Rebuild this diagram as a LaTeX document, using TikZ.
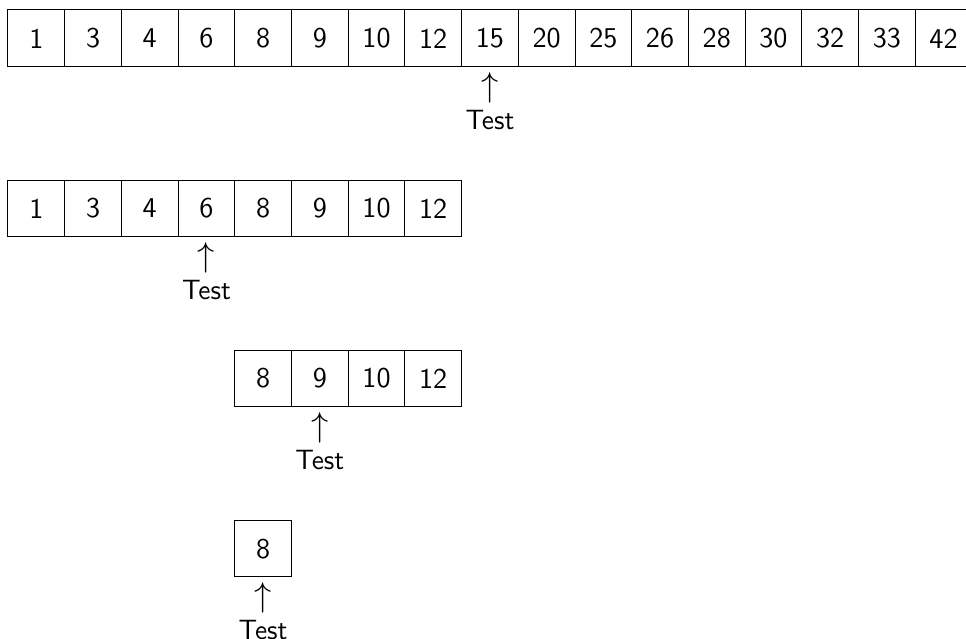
\documentclass[tikz,border=0pt]{standalone}
\usepackage{tikz}
\begin{document}
\begin{tikzpicture}[
  x=1cm,y=1cm,
  cell/.style={draw, line width=0.5pt, minimum size=1cm, inner sep=0pt, outer sep=0pt,
    font=\sffamily\fontsize{14.4}{17}\selectfont},
  upsym/.style={inner sep=0pt, anchor=north, font=\fontsize{16.5}{19}\selectfont},
  testlbl/.style={inner sep=0pt, anchor=base, font=\sffamily\fontsize{14}{17}\selectfont}
]
\useasboundingbox (0,0) rectangle (17.037,-11.27);
% row 1
\foreach \v [count=\i] in {1,3,4,6,8,9,10,12,15,20,25,26,28,30,32,33,42}{
  \node[cell] (a\i) at ({0.141+\i-0.5},{-0.176-0.5}) {\v};
}
% row 2
\foreach \v [count=\i] in {1,3,4,6,8,9,10,12}{
  \node[cell] (b\i) at ({0.141+\i-0.5},{-3.176-0.5}) {\v};
}
% row 3
\foreach \v [count=\i] in {8,9,10,12}{
  \node[cell] (c\i) at ({0.141+4+\i-0.5},{-6.176-0.5}) {\v};
}
% row 4
\node[cell] (d1) at ({0.141+4.5},{-9.176-0.5}) {8};

% pointers
\node[upsym] (pa) at ([yshift=-0.09cm]a9.south) {$\uparrow$};
\node[testlbl] (ta) at ([yshift=-1.1cm]a9.south) {Test};
\node[upsym] (pb) at ([yshift=-0.09cm]b4.south) {$\uparrow$};
\node[testlbl] (tb) at ([yshift=-1.1cm]b4.south) {Test};
\node[upsym] (pc) at ([yshift=-0.09cm]c2.south) {$\uparrow$};
\node[testlbl] (tc) at ([yshift=-1.1cm]c2.south) {Test};
\node[upsym] (pd) at ([yshift=-0.09cm]d1.south) {$\uparrow$};
\node[testlbl] (td) at ([yshift=-1.1cm]d1.south) {Test};
\end{tikzpicture}
\end{document}
